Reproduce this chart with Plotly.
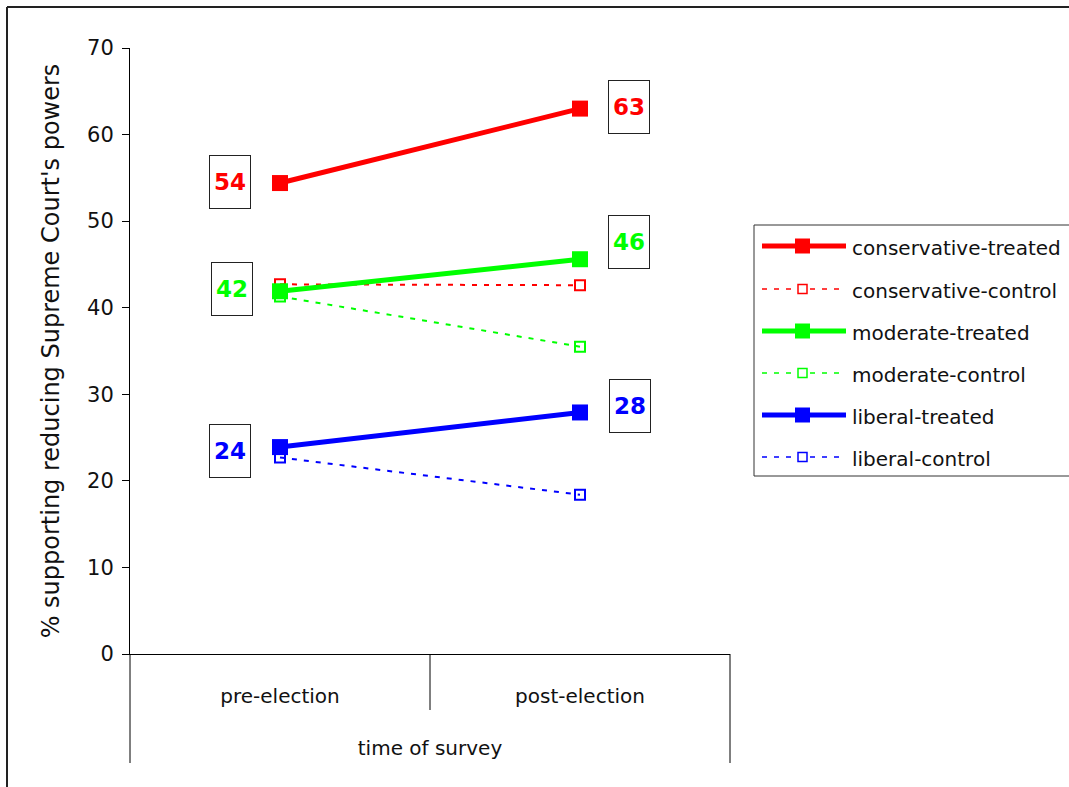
import plotly.graph_objects as go

# ---- data -------------------------------------------------------------
categories = ["pre-election", "post-election"]
series_names = [
    "conservative-treated", "conservative-control",
    "moderate-treated", "moderate-control",
    "liberal-treated", "liberal-control",
]
conservative_treated = [54.4, 63.0]
conservative_control = [42.7, 42.6]
moderate_treated = [41.9, 45.6]
moderate_control = [41.3, 35.5]
liberal_treated = [23.9, 27.9]
liberal_control = [22.7, 18.4]

# ---- geometry (pixels) ------------------------------------------------
W, H = 1069, 787
L, R, T, B = 130, 339, 48, 133
PW, PH = W - L - R, H - T - B


def px_x(p):
    return (p - L) / PW


def px_y(p):
    return (H - B - p) / PH


RED, GREEN, BLUE = "#FF0000", "#00FF00", "#0000FF"
TEXT_FONT = "DejaVu Sans"

styles = {
    "conservative-treated": dict(color=RED, treated=True, values=conservative_treated),
    "conservative-control": dict(color=RED, treated=False, values=conservative_control),
    "moderate-treated": dict(color=GREEN, treated=True, values=moderate_treated),
    "moderate-control": dict(color=GREEN, treated=False, values=moderate_control),
    "liberal-treated": dict(color=BLUE, treated=True, values=liberal_treated),
    "liberal-control": dict(color=BLUE, treated=False, values=liberal_control),
}

DASH = "5px,7px"

fig = go.Figure()

# control series underneath, treated series on top
draw_order = [n for n in series_names if not styles[n]["treated"]] + \
             [n for n in series_names if styles[n]["treated"]]
for name in draw_order:
    s = styles[name]
    if s["treated"]:
        line = dict(color=s["color"], width=5)
        marker = dict(symbol="square", size=16, color=s["color"])
    else:
        line = dict(color=s["color"], width=2, dash=DASH)
        marker = dict(symbol="square-open", size=10, color=s["color"],
                      line=dict(color=s["color"], width=2))
    fig.add_trace(go.Scatter(
        x=categories, y=s["values"], name=name, mode="lines+markers",
        line=line, marker=marker, showlegend=False, cliponaxis=False,
    ))

# boxed value labels for the treated series
label_offsets = {
    ("conservative-treated", 0): (-50, 1), ("conservative-treated", 1): (49, 2),
    ("moderate-treated", 0): (-48, 2), ("moderate-treated", 1): (49, 17),
    ("liberal-treated", 0): (-50, -4), ("liberal-treated", 1): (50, 6),
}
annotations = []
for (name, i), (dx, dy) in label_offsets.items():
    v = styles[name]["values"][i]
    annotations.append(dict(
        x=categories[i], y=v, xref="x", yref="y", text=f"{round(v)}",
        showarrow=False, xshift=dx, yshift=dy,
        font=dict(family=TEXT_FONT, size=23, color=styles[name]["color"], weight="bold"),
        bordercolor="#222222", borderwidth=1, borderpad=1,
        width=38, height=50, bgcolor="white",
    ))

shapes = []
# multi-level category frame below the plot
for xp, bottom in [(L, 763), (430, 710), (730, 763)]:
    shapes.append(dict(type="line", xref="paper", yref="paper",
                       x0=px_x(xp), x1=px_x(xp), y0=0, y1=px_y(bottom),
                       line=dict(color="#000000", width=1)))
# outer chart border (top and left edges)
shapes.append(dict(type="line", xref="paper", yref="paper",
                   x0=px_x(7), x1=px_x(W + 5), y0=px_y(7), y1=px_y(7),
                   line=dict(color="#222222", width=2)))
shapes.append(dict(type="line", xref="paper", yref="paper",
                   x0=px_x(7), x1=px_x(7), y0=px_y(7), y1=px_y(H + 5),
                   line=dict(color="#222222", width=2)))

# legend box
shapes.append(dict(type="rect", xref="paper", yref="paper",
                   x0=px_x(754), x1=px_x(W + 10), y0=px_y(225), y1=px_y(476),
                   line=dict(color="#333333", width=1), fillcolor="white", layer="below"))
row_y = [246, 289, 331, 373, 415, 457]
for name, ry in zip(series_names, row_y):
    s = styles[name]
    yy = px_y(ry)
    if s["treated"]:
        shapes.append(dict(type="line", xref="paper", yref="paper",
                           x0=px_x(762), x1=px_x(846), y0=yy, y1=yy,
                           line=dict(color=s["color"], width=5)))
        shapes.append(dict(type="rect", xref="paper", yref="paper",
                           x0=px_x(795), x1=px_x(810), y0=px_y(ry - 7.5), y1=px_y(ry + 7.5),
                           line=dict(color=s["color"], width=0), fillcolor=s["color"]))
    else:
        shapes.append(dict(type="line", xref="paper", yref="paper",
                           x0=px_x(762), x1=px_x(846), y0=yy, y1=yy,
                           line=dict(color=s["color"], width=1.5, dash=DASH)))
        shapes.append(dict(type="rect", xref="paper", yref="paper",
                           x0=px_x(798), x1=px_x(807), y0=px_y(ry - 4.5), y1=px_y(ry + 4.5),
                           line=dict(color=s["color"], width=1.5), fillcolor="white"))
    annotations.append(dict(
        x=px_x(850), y=px_y(ry + 2), xref="paper", yref="paper", text=name,
        showarrow=False, xanchor="left", yanchor="middle",
        font=dict(family=TEXT_FONT, size=20, color="#111111"),
    ))

fig.update_layout(
    width=W, height=H,
    margin=dict(l=L, r=R, t=T, b=B, autoexpand=False),
    paper_bgcolor="white", plot_bgcolor="white",
    showlegend=False,
    font=dict(family=TEXT_FONT, color="#111111"),
    shapes=shapes, annotations=annotations,
    xaxis=dict(
        type="category", range=[-0.5, 1.5], showgrid=False, zeroline=False,
        showline=True, linecolor="#000000", linewidth=1,
        ticks="", ticklabelstandoff=24,
        tickfont=dict(family=TEXT_FONT, size=20, color="#111111"),
        title=dict(text="time of survey", standoff=33,
                   font=dict(family=TEXT_FONT, size=20, color="#111111")),
        automargin=False,
    ),
    yaxis=dict(
        range=[0, 70], dtick=10, showgrid=False, zeroline=False,
        showline=True, linecolor="#000000", linewidth=1,
        ticks="outside", ticklen=7, tickcolor="#000000", tickwidth=1,
        ticklabelstandoff=4,
        tickfont=dict(family=TEXT_FONT, size=21, color="#111111"),
        title=dict(text="% supporting reducing Supreme Court's powers", standoff=20,
                   font=dict(family=TEXT_FONT, size=24, color="#111111")),
        automargin=False,
    ),
)

fig.write_html("out.html")
